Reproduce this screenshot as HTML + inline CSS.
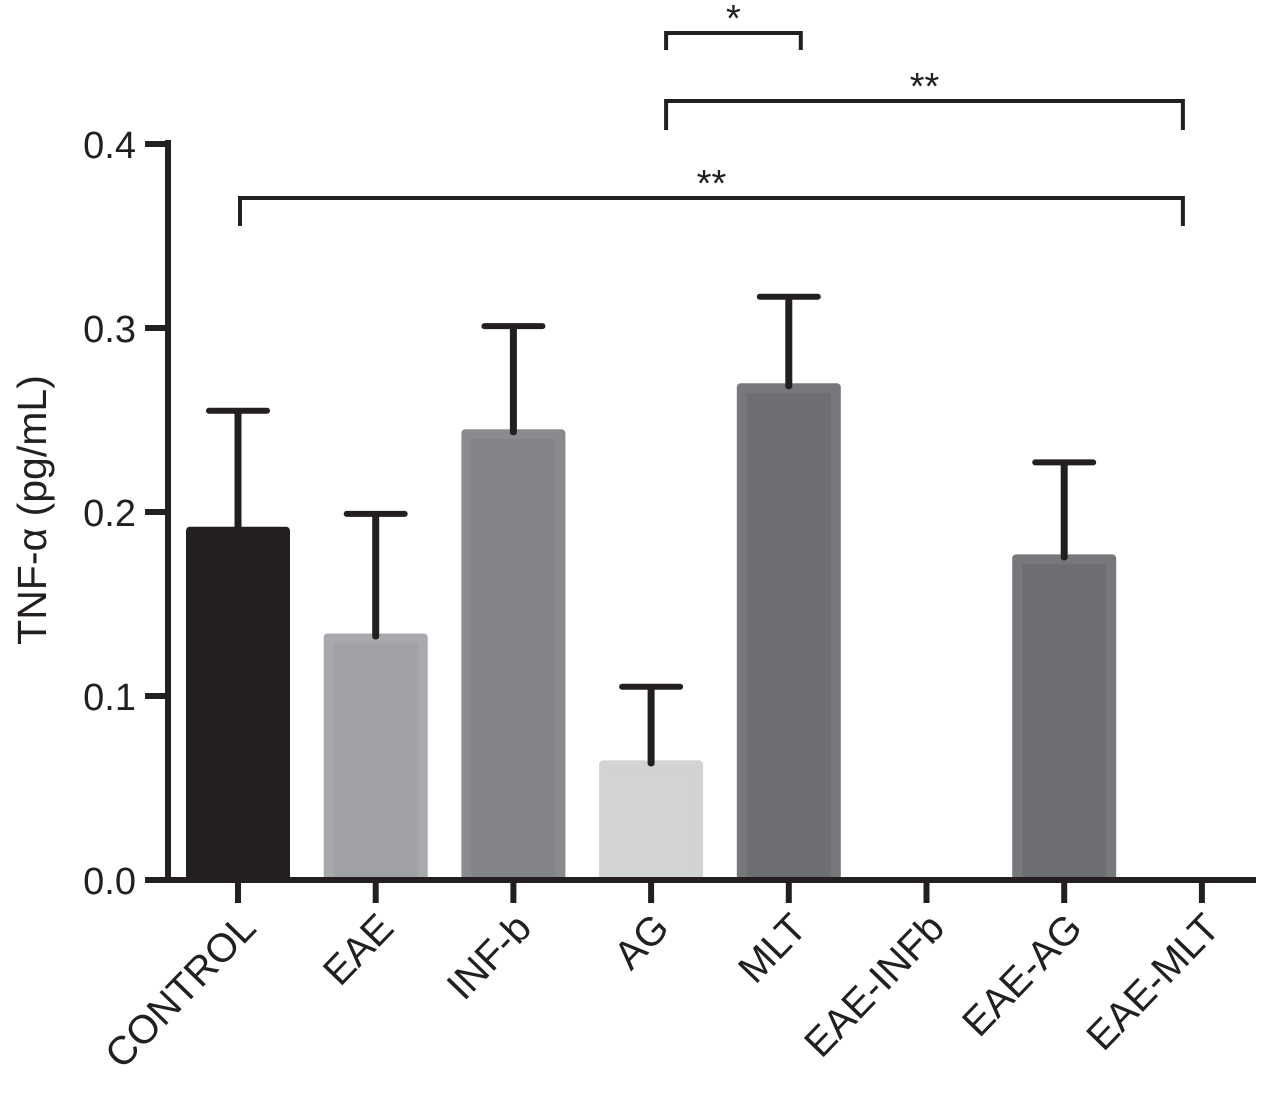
<!DOCTYPE html>
<html><head><meta charset="utf-8"><style>body{margin:0;background:#fff}svg{display:block}</style></head>
<body>
<svg id="c" width="1273" height="1096" xmlns="http://www.w3.org/2000/svg" font-family="Liberation Sans, Arial, sans-serif"></svg>
<script>
const categories=["CONTROL","EAE","INF-b","AG","MLT","EAE-INFb","EAE-AG","EAE-MLT"];
const values=[0.192,0.134,0.245,0.065,0.27,0,0.177,0];
const errors=[0.063,0.065,0.056,0.04,0.047,0,0.05,0];
const yTicks=[0,0.1,0.2,0.3,0.4];
const yTickLabels=["0.0","0.1","0.2","0.3","0.4"];
const outerColors=["#231f20","#a7a9ac","#8a8b8f","#d1d3d4","#77787b","#6d6e71","#77787b","#6d6e71"];
const innerColors=["#231f20","#a0a1a4","#838488","#d1d3d4","#6d6e71","#6d6e71","#6d6e71","#6d6e71"];
const sigs=[{a:3,b:4,label:"*",level:0},{a:3,b:7,label:"**",level:1},{a:0,b:7,label:"**",level:2}];
const NS="http://www.w3.org/2000/svg",svg=document.getElementById('c');
const y=v=>880-v*1840, x=i=>238+i*137.7;
function mk(t,a,p){const e=document.createElementNS(NS,t);for(const k in a)e.setAttribute(k,a[k]);(p||svg).appendChild(e);return e;}
values.forEach((v,i)=>{
  if(v<=0)return;
  const g=mk('g',{});
  
  
  const top=errors[i]?y(v+errors[i]):y(v);
  mk('line',{x1:x(i),x2:x(i),y1:y(v),y2:top,stroke:'#231f20','stroke-width':7},g);
  mk('line',{x1:x(i)-29,x2:x(i)+29,y1:top,y2:top,stroke:'#231f20','stroke-width':6,'stroke-linecap':'round'},g);
  mk('rect',{x:x(i)-52,y:y(v),width:104,height:880-y(v),fill:outerColors[i],rx:4},g);
  mk('rect',{x:x(i)-42,y:y(v)+10,width:84,height:880-y(v)-10,fill:innerColors[i]},g);
  mk('rect',{x:x(i)-3.5,y:y(v)-2,width:7,height:8,fill:'#231f20',rx:3},g);
});
const ax=mk('g',{stroke:'#231f20','stroke-width':6});


mk('line',{x1:168,x2:168,y1:140,y2:883},ax);
mk('line',{x1:145,x2:1256,y1:880,y2:880},ax);
yTicks.forEach((t,i)=>{
  mk('line',{x1:145,x2:168,y1:y(t),y2:y(t)},ax);
  const tx=mk('text',{x:136,y:y(t)+14,'text-anchor':'end','font-size':38,fill:'#231f20'});
  
  
  tx.textContent=yTickLabels[i];
});
categories.forEach((c,i)=>{
  mk('line',{x1:x(i),x2:x(i),y1:880,y2:903},ax);
  const tx=mk('text',{x:x(i)+20,y:930,'text-anchor':'end','font-size':40,fill:'#231f20',transform:`rotate(-46 ${x(i)+20} 930)`});
  
  
  tx.textContent=c;
});
const yt=mk('text',{x:46,y:510,'text-anchor':'middle','font-size':41,fill:'#231f20',transform:'rotate(-90 46 510)'});


yt.textContent='TNF-α (pg/mL)';
const lv=[{top:33,bot:50},{top:101,bot:130},{top:198,bot:226}];
sigs.forEach(s=>{
  const g=mk('g',{});
  
  
  const L=lv[s.level],x1=x(s.a)+(s.level<2?15:2),x2=x(s.b)+(s.level==0?12:-19);
  mk('polyline',{points:`${x1},${L.bot} ${x1},${L.top} ${x2},${L.top} ${x2},${L.bot}`,fill:'none',stroke:'#231f20','stroke-width':4},g);
  const t=mk('text',{x:(x1+x2)/2,y:L.top-2,'text-anchor':'middle','font-size':38,fill:'#231f20'},g);
  t.textContent=s.label;
});
</script>
</body></html>
